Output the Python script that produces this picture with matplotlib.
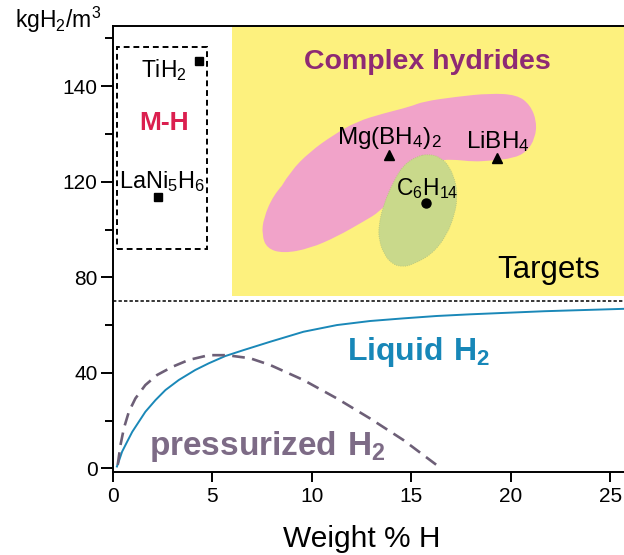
import matplotlib
matplotlib.use('Agg')
import matplotlib.pyplot as plt
import numpy as np
from matplotlib.path import Path
from matplotlib.patches import PathPatch, Rectangle

plt.rcParams['font.family'] = ['Liberation Sans', 'DejaVu Sans']

# liquid hydrogen curve (weight % H, kgH2/m3)
liquid_x = [0.2, 0.26, 0.46, 0.71, 0.97, 1.30, 1.63, 2.14, 2.64, 3.31, 4.14, 4.82,
            5.64, 6.56, 7.9, 9.58, 11.26, 12.93, 14.6, 16.28, 17.96, 21.7, 25.7]
liquid_y = [0.8, 2.1, 7.0, 11.1, 15.3, 19.5, 23.7, 28.6, 32.8, 37.0, 41.2, 44.0,
            47.0, 49.5, 53.0, 57.2, 60.0, 61.7, 62.8, 63.8, 64.5, 65.8, 66.8]

# pressurized hydrogen curve
press_x = [0.24, 0.38, 0.55, 0.80, 1.13, 1.63, 2.22, 2.98, 3.81, 4.82, 5.73, 6.9,
           7.9, 9.58, 11.26, 12.93, 14.6, 16.28]
press_y = [1.5, 9.8, 16.8, 23.7, 29.3, 34.9, 39.1, 42.5, 45.4, 47.4, 47.4, 46.1,
           43.3, 37.0, 29.3, 20.9, 11.9, 1.4]

# metal hydrides
mh_x = [4.33, 2.29]
mh_y = [145.3, 113.5]

# complex hydrides and hexane
ch_x = [13.9, 19.33]
ch_y = [125.6, 124.9]
hex_x = [15.73]
hex_y = [111.0]

# targets region and M-H box
target_line = 70
target_x0 = 6.0
target_y0 = 72.2
mh_box = [0.2, 4.75, 91.7, 148.2]

# outline of the complex hydride region
pink_x = [7.49, 7.57, 8.07, 8.91, 9.91, 11.09, 12.26, 13.60, 14.94, 15.61, 17.29, 18.96,
          20.31, 20.98, 21.31, 21.23, 20.81, 20.14, 18.96, 18.12, 17.29, 16.45, 15.45,
          14.44, 13.43, 12.59, 11.26, 9.91, 8.57, 7.74]
pink_y = [97.8, 104.7, 114.4, 122.1, 126.3, 129.8, 132.6, 134.3, 135.7, 136.8, 137.8, 138.5,
          138.2, 136.1, 132.6, 129.1, 126.3, 124.9, 124.4, 124.2, 124.6, 124.6, 122.5,
          116.5, 107.5, 103.3, 97.0, 92.1, 90.0, 92.1]

# outline of the hexane region
green_x = [15.85, 16.45, 16.95, 17.25, 17.31, 17.20, 16.80, 16.05, 15.11, 14.59, 14.04,
           13.63, 13.38, 13.36, 13.60, 14.10, 14.61, 15.28]
green_y = [125.8, 125.2, 123.1, 119.5, 113.2, 106.9, 97.7, 89.7, 85.5, 84.3, 85.5,
           89.7, 95.6, 101.5, 110.3, 120.0, 123.5, 125.3]


# the axis is stretched above 120 kg/m3
def fwd(v):
    v = np.asarray(v, dtype=float)
    return np.where(v <= 120, v, 120 + 2 * (v - 120))


def inv(p):
    p = np.asarray(p, dtype=float)
    return np.where(p <= 120, p, 120 + (p - 120) / 2)


def blob(xs, ys, **kw):
    pts = np.column_stack([xs, ys])
    mids = (pts + np.roll(pts, -1, axis=0)) / 2
    verts = [mids[-1]]
    codes = [Path.MOVETO]
    for i in range(len(pts)):
        verts += [pts[i], mids[i]]
        codes += [Path.CURVE3, Path.CURVE3]
    verts.append(mids[-1])
    codes.append(Path.CLOSEPOLY)
    return PathPatch(Path(verts, codes), **kw)


fig = plt.figure(figsize=(6.24, 5.55), dpi=100)
ax = fig.add_axes([0.181, 0.150, 0.819, 0.8032])
ax.set_yscale('function', functions=(fwd, inv))
ax.set_xlim(0, 25.7)
ax.set_ylim(-1.4, 152.6)

# targets
ax.fill_between([target_x0, 30], target_y0, 160, color='#fdf17e', lw=0, zorder=0)
ax.axhline(target_line, color='black', lw=1.1, ls=(0, (2.2, 1.4)), zorder=1)

ax.add_patch(blob(pink_x, pink_y, facecolor='#f1a3c9', edgecolor='none', zorder=1))
ax.add_patch(blob(green_x, green_y, facecolor='#c9d98b', edgecolor='#b3c27c',
                  lw=0.6, ls=':', zorder=2))

ax.add_patch(Rectangle((mh_box[0], mh_box[2]), mh_box[1] - mh_box[0], mh_box[3] - mh_box[2],
                       fill=False, edgecolor='black', lw=1.4, ls=(0, (3, 2)), zorder=3))

ax.plot(mh_x, mh_y, 's', color='black', ms=6, zorder=4)
ax.plot(ch_x, ch_y, '^', color='black', ms=6.5, zorder=4)
ax.plot(hex_x, hex_y, 'o', color='black', ms=6.5, zorder=4)

ax.plot(liquid_x, liquid_y, color='#1a88b8', lw=1.4, zorder=3)
ax.plot(press_x, press_y, color='#6d5f77', lw=1.9, ls=(0, (4.8, 2.8)), zorder=3)

# labels
ax.text(2.54, 142.0, r'$\mathregular{TiH_2}$', fontsize=16.5, ha='center', va='baseline', zorder=5)
ax.text(2.57, 130.8, 'M-H', fontsize=19, fontweight='bold', color='#db1f4f',
        ha='center', va='baseline', zorder=5)
ax.text(2.48, 117.3, r'$\mathregular{LaNi_5H_6}$', fontsize=17, ha='center', va='baseline', zorder=5)
ax.text(13.91, 127.8, r'$\mathregular{Mg(BH_4)_2}$', fontsize=17.5, ha='center', va='baseline', zorder=5)
ax.text(19.37, 127.0, r'$\mathregular{LiBH_4}$', fontsize=17.5, ha='center', va='baseline', zorder=5)
ax.text(15.78, 114.4, r'$\mathregular{C_6H_{14}}$', fontsize=16.5, ha='center', va='baseline', zorder=5)
ax.text(15.81, 143.5, 'Complex hydrides', fontsize=20.5, fontweight='bold', color='#8e2a74',
        ha='center', va='baseline', zorder=5)
ax.text(21.9, 79.6, 'Targets', fontsize=22.5, ha='center', va='baseline', zorder=5)
ax.text(15.36, 45.3, r'$\mathregular{Liquid\ H_2}$', fontsize=23, fontweight='bold',
        color='#1787b8', ha='center', va='baseline', zorder=5)
ax.text(7.74, 5.6, r'$\mathregular{pressurized\ H_2}$', fontsize=24, fontweight='bold',
        color='#7d6b86', ha='center', va='baseline', zorder=5)

fig.text(58 / 624, 1 - 28.3 / 555, r'$\mathregular{kgH_2/m^3}$', fontsize=16.5,
         ha='center', va='baseline')
fig.text(362 / 624, 1 - 546.7 / 555, 'Weight % H', fontsize=21.5,
         ha='center', va='baseline')

ax.set_xticks([0, 5, 10, 15, 20, 25])
ax.set_yticks([0, 40, 80, 120, 140])
ax.set_yticks([20, 60, 100, 130, 150], minor=True)
ax.set_yticklabels(['0', '40', '80', '120', '140'])
ax.set_xticklabels(['0', '5', '10', '15', '20', '25'])
ax.tick_params(axis='both', labelsize=15, width=1.4, direction='out')
ax.tick_params(axis='y', which='major', length=9, pad=2)
ax.tick_params(axis='y', which='minor', length=6, width=1.4)
ax.tick_params(axis='x', which='major', length=7, pad=4)
ax.tick_params(axis='x', which='minor', bottom=False)

for side in ['left', 'bottom', 'top']:
    ax.spines[side].set_linewidth(1.4)
ax.spines['right'].set_visible(False)

fig.savefig('out.png', dpi=100, facecolor='white')
